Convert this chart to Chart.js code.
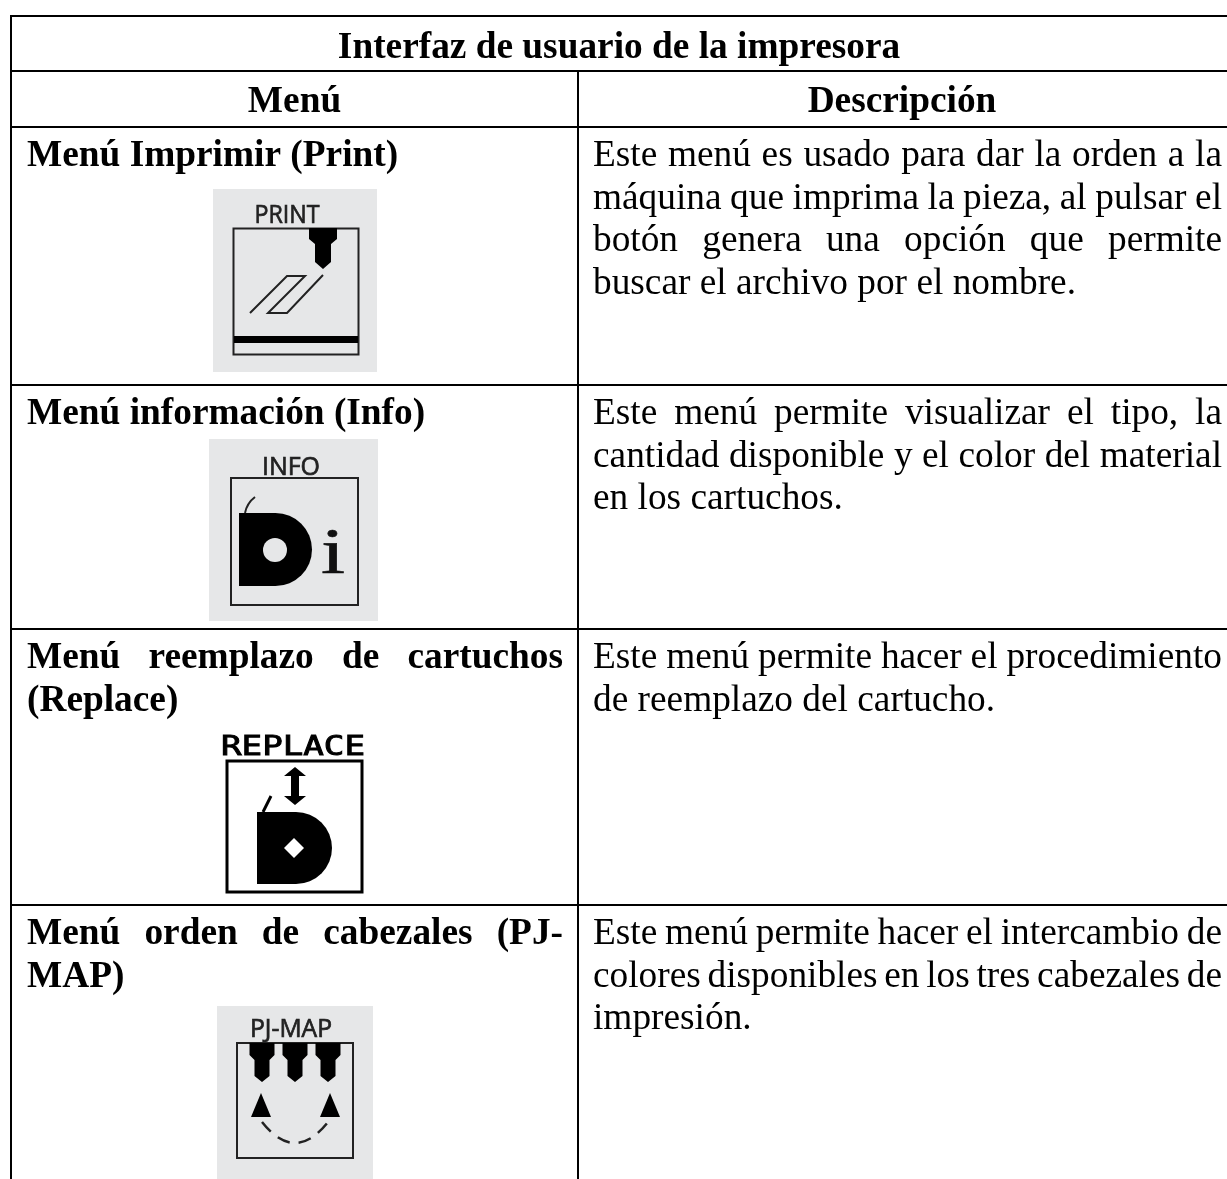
<!DOCTYPE html>
<html lang="es"><head><meta charset="utf-8">
<style>html,body{margin:0;padding:0;background:#fff;overflow:hidden}#wrap{position:absolute;left:0;top:0;width:1227px;height:1179px}</style>
<script src="https://cdn.jsdelivr.net/npm/chart.js@4/dist/chart.umd.min.js"></script>
</head><body><div id="wrap"><canvas id="c" width="1227" height="1179"></canvas></div>
<script>
const tableTitle = "Interfaz de usuario de la impresora";
const headers = ["Menú", "Descripción"];
const menuLines = [
  ["Menú Imprimir (Print)"],
  ["Menú información (Info)"],
  ["Menú reemplazo de cartuchos", "(Replace)"],
  ["Menú orden de cabezales (PJ-", "MAP)"]
];
const descLines = [
  ["Este menú es usado para dar la orden a la", "máquina que imprima la pieza, al pulsar el", "botón genera una opción que permite", "buscar el archivo por el nombre."],
  ["Este menú permite visualizar el tipo, la", "cantidad disponible y el color del material", "en los cartuchos."],
  ["Este menú permite hacer el procedimiento", "de reemplazo del cartucho."],
  ["Este menú permite hacer el intercambio de", "colores disponibles en los tres cabezales de", "impresión."]
];
const iconLabels = ["PRINT", "INFO", "REPLACE", "PJ-MAP"];
const columnLines = [11, 578, 1228];
const rowLines = [16, 71, 127, 385, 629, 905];
const rowTextTop = [127, 385, 629, 905];

const gap = {x:null,y:null};
const [xl,xm,xr] = columnLines;
const rulePoints = [];
rowLines.forEach(y=>{ rulePoints.push({x:xl,y},{x:xr,y},gap); });
rulePoints.push({x:xl,y:rowLines[0]},{x:xl,y:1179},gap,{x:xm,y:rowLines[1]},{x:xm,y:1179});

const SERIF = '"Liberation Serif"';
const FS = 37.33;
function textLine(ctx, s, x, base, width, bold, justify){
  ctx.font = (bold?'bold ':'')+FS+'px '+SERIF;
  ctx.textBaseline='alphabetic'; ctx.textAlign='left'; ctx.fillStyle='#000';
  if(!justify){ ctx.fillText(s,x,base); return; }
  const w = s.split(' ');
  const total = w.reduce((a,t)=>a+ctx.measureText(t).width,0);
  const sp = (width-total)/(w.length-1);
  let px=x; w.forEach(t=>{ctx.fillText(t,px,base);px+=ctx.measureText(t).width+sp;});
}
function poly(ctx,X,Y,pts,fill,lw,close){
  ctx.beginPath(); pts.forEach((p,i)=>i?ctx.lineTo(X(p[0]),Y(p[1])):ctx.moveTo(X(p[0]),Y(p[1])));
  if(close)ctx.closePath();
  if(fill){ctx.fillStyle=fill;ctx.fill();} else {ctx.lineWidth=lw;ctx.strokeStyle='#222';ctx.stroke();}
}
function label(ctx,s,cx,base,font,w,color,heavy){
  ctx.font=font;ctx.fillStyle=color;ctx.strokeStyle=color;ctx.lineWidth=heavy;ctx.textAlign='center';ctx.textBaseline='alphabetic';
  const m=ctx.measureText(s).width;ctx.save();ctx.translate(cx,base);ctx.scale(w/m,1);ctx.fillText(s,0,0);ctx.strokeText(s,0,0);ctx.restore();
}
function nozzle(ctx,X,Y,cx,top,wh,ww,nh,nw,tip){
  poly(ctx,X,Y,[[cx-ww,top],[cx+ww,top],[cx+ww,top+wh-3],[cx+nw,top+wh+2],[cx+nw,top+nh],[cx,top+tip],[cx-nw,top+nh],[cx-nw,top+wh+2],[cx-ww,top+wh-3]],'#000',0,true);
}
function spool(ctx,X,Y,l,t,b,r,hx,hy,hr,holeFill,diamond){
  const rad=(b-t)/2, mid=(t+b)/2;
  ctx.beginPath();ctx.moveTo(X(l),Y(t));ctx.lineTo(X(r-rad),Y(t));
  ctx.arc(X(r-rad),Y(mid),rad,-Math.PI/2,Math.PI/2);
  ctx.lineTo(X(l),Y(b));ctx.closePath();ctx.fillStyle='#000';ctx.fill();
  ctx.fillStyle=holeFill;
  if(diamond){poly(ctx,X,Y,[[hx,hy-hr],[hx+hr,hy],[hx,hy+hr],[hx-hr,hy]],holeFill,0,true);}
  else{ctx.beginPath();ctx.arc(X(hx),Y(hy),hr,0,7);ctx.fill();}
}
const tablePlugin = {
  id:'table',
  afterDatasetsDraw(chart){
    const ctx=chart.ctx, X=v=>chart.scales.x.getPixelForValue(v), Y=v=>chart.scales.y.getPixelForValue(v);
    ctx.save();
    ctx.font='bold '+FS+'px '+SERIF;ctx.fillStyle='#000';ctx.textAlign='center';ctx.textBaseline='alphabetic';
    ctx.fillText(tableTitle,X(619),Y(57.5));
    ctx.fillText(headers[0],X(294.5),Y(112));
    ctx.fillText(headers[1],X(902),Y(112));
    const lh=42.7;
    menuLines.forEach((ls,r)=>ls.forEach((s,i)=>{
      textLine(ctx,s,X(27),Y(rowTextTop[r]+39+i*lh),536,true,ls.length>1&&i<ls.length-1);
    }));
    descLines.forEach((ls,r)=>ls.forEach((s,i)=>{
      const just=(r===0&&i<3)||(r===1&&i<2)||(r===2&&i<1)||(r===3&&i<2);
      textLine(ctx,s,X(593),Y(rowTextTop[r]+39+i*lh),629,false,just);
    }));
    const SANS='26px "Open Sans"';
    // PRINT icon
    ctx.fillStyle='#e6e7e8';ctx.fillRect(X(213),Y(189),164,183);
    label(ctx,iconLabels[0],X(287),Y(223),SANS,65,'#222',0.7);
    ctx.strokeStyle='#222';ctx.lineWidth=2;ctx.strokeRect(X(233.5),Y(228.5),125,126);
    ctx.fillStyle='#000';ctx.fillRect(X(234),Y(336),124,7);
    nozzle(ctx,X,Y,323,228,14,14,34,8,41);
    poly(ctx,X,Y,[[250,313],[287,276],[305,276],[268,313],[287,313],[323,275]],null,2);
    // INFO icon
    ctx.fillStyle='#e6e7e8';ctx.fillRect(X(209),Y(439),169,182);
    label(ctx,iconLabels[1],X(291),Y(475),SANS,58,'#222',0.7);
    ctx.strokeStyle='#222';ctx.lineWidth=2;ctx.strokeRect(X(231),Y(478),127,127);
    spool(ctx,X,Y,239,513,586,312,275,550,12,'#e6e7e8',false);
    ctx.beginPath();ctx.moveTo(X(245),Y(513));ctx.quadraticCurveTo(X(247),Y(503),X(255),Y(497));ctx.lineWidth=2;ctx.stroke();
    label(ctx,'i',X(333),Y(573),'66px '+SERIF,24,'#111',0.6);
    // REPLACE icon
    label(ctx,iconLabels[2],X(293),Y(755),'27px "DejaVu Sans Mono"',144,'#000',0.9);
    ctx.strokeStyle='#000';ctx.lineWidth=3;ctx.strokeRect(X(227),Y(761),135,131);
    poly(ctx,X,Y,[[295,767],[306,776],[299,776],[299,796],[306,796],[295,805],[284,796],[291,796],[291,776],[284,776]],'#000',0,true);
    spool(ctx,X,Y,257,812,884,332,294,848,10,'#fff',true);
    ctx.beginPath();ctx.moveTo(X(263),Y(812));ctx.lineTo(X(271),Y(796));ctx.lineWidth=3;ctx.strokeStyle='#000';ctx.stroke();
    // PJ-MAP icon
    ctx.fillStyle='#e6e7e8';ctx.fillRect(X(217),Y(1006),156,173);
    label(ctx,iconLabels[3],X(291),Y(1037),'25px "Open Sans"',82,'#222',0.7);
    ctx.strokeStyle='#222';ctx.lineWidth=2;ctx.strokeRect(X(237),Y(1043),116,115);
    [262,295,328].forEach(c=>nozzle(ctx,X,Y,c,1043,15,12.5,33,7.5,39));
    [261,330].forEach(c=>poly(ctx,X,Y,[[c,1093],[c+10,1117],[c-10,1117]],'#000',0,true));
    ctx.beginPath();ctx.moveTo(X(262),Y(1122));ctx.quadraticCurveTo(X(295),Y(1164),X(328),Y(1122));
    ctx.setLineDash([13,9]);ctx.lineWidth=2.5;ctx.stroke();ctx.setLineDash([]);
    ctx.restore();
  }
};
new Chart(document.getElementById('c'),{
  type:'scatter',
  data:{datasets:[{data:rulePoints,showLine:true,spanGaps:false,borderColor:'#000',borderWidth:2,pointRadius:0,borderCapStyle:'square'}]},
  options:{responsive:false,animation:false,layout:{padding:0},
    plugins:{legend:{display:false},tooltip:{enabled:false},title:{display:false}},
    scales:{x:{type:'linear',display:false,min:0,max:1227},y:{type:'linear',display:false,min:0,max:1179,reverse:true}}},
  plugins:[tablePlugin]
});
</script></body></html>
